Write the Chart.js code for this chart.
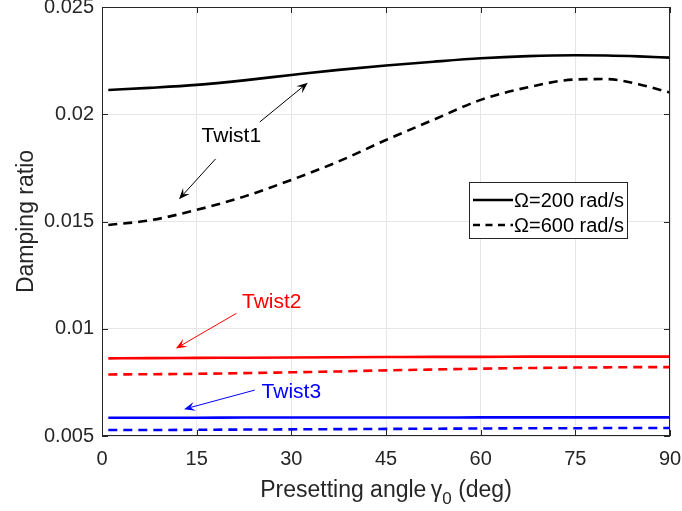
<!DOCTYPE html>
<html>
<head>
<meta charset="utf-8">
<script src="https://cdn.jsdelivr.net/npm/chart.js@4.4.1/dist/chart.umd.min.js"></script>
<style>
  html, body { margin: 0; padding: 0; background: #fff; }
  #wrap { width: 682px; height: 511px; }
</style>
</head>
<body>
<div id="wrap"><canvas id="chart" width="682" height="511"></canvas></div>
<script>
// presetting angle (deg)
const angles = [1, 7.5, 15, 22.5, 30, 37.5, 45, 52.5, 60, 67.5, 75, 80, 85, 90];

// damping ratio, Omega = 200 rad/s (solid) and 600 rad/s (dashed)
const twist1At200 = [0.02113, 0.02123, 0.02137, 0.02158, 0.02183, 0.02207, 0.02227, 0.02245, 0.02261, 0.02271, 0.02275, 0.02274, 0.02270, 0.02264];
const twist1At600 = [0.01484, 0.01505, 0.01554, 0.01616, 0.01694, 0.01780, 0.01880, 0.01974, 0.02067, 0.02126, 0.02162, 0.02164, 0.02140, 0.02101];
const twist2At200 = [0.00862, 0.00863, 0.00864, 0.00865, 0.00866, 0.00867, 0.00868, 0.00869, 0.00869, 0.00870, 0.00870, 0.00870, 0.00870, 0.00870];
const twist2At600 = [0.00787, 0.00788, 0.00790, 0.00793, 0.00797, 0.00801, 0.00806, 0.00810, 0.00814, 0.00817, 0.00819, 0.00820, 0.00821, 0.00821];
const twist3At200 = [0.00585, 0.00585, 0.00585, 0.00586, 0.00586, 0.00586, 0.00586, 0.00586, 0.00587, 0.00587, 0.00587, 0.00587, 0.00587, 0.00587];
const twist3At600 = [0.00528, 0.00528, 0.00529, 0.00530, 0.00531, 0.00532, 0.00533, 0.00534, 0.00535, 0.00536, 0.00536, 0.00537, 0.00537, 0.00537];

const xTicks = [0, 15, 30, 45, 60, 75, 90];
const yTicks = [0.005, 0.01, 0.015, 0.02, 0.025];
const legendLabels = ['\u03A9=200 rad/s', '\u03A9=600 rad/s'];

// text labels with arrows (data coordinates)
const notes = [
  { text: 'Twist1', color: '#000', at: [20.5, 0.01899], arrows: [[25.0, 0.01964, 32.6, 0.02147], [18.0, 0.01792, 12.2, 0.01604]] },
  { text: 'Twist2', color: '#ff0000', at: [26.9, 0.01125], arrows: [[21.3, 0.01072, 11.7, 0.00908]] },
  { text: 'Twist3', color: '#0000ff', at: [30.0, 0.00703], arrows: [[24.2, 0.00714, 13.0, 0.00625]] }
];

const FONT = '"Liberation Sans", Arial, Helvetica, sans-serif';
const DASH = [9, 6];

function makeSet(label, values, color, dashed) {
  return {
    label: label,
    data: angles.map((a, i) => ({ x: a, y: values[i] })),
    borderColor: color,
    borderWidth: 2.6,
    borderDash: dashed ? DASH : [],
    pointRadius: 0,
    fill: false,
    cubicInterpolationMode: 'monotone'
  };
}

// thin shaft with a filled "stealth" head, like MATLAB annotation arrows
function drawArrow(ctx, x1, y1, x2, y2) {
  const ang = Math.atan2(y2 - y1, x2 - x1);
  const len = 11, half = 4.5;
  const c = Math.cos(ang), s = Math.sin(ang);
  ctx.beginPath();
  ctx.moveTo(x1, y1);
  ctx.lineTo(x2 - c * len * 0.6, y2 - s * len * 0.6);
  ctx.stroke();
  ctx.beginPath();
  ctx.moveTo(x2, y2);
  ctx.lineTo(x2 - c * len - s * half, y2 - s * len + c * half);
  ctx.lineTo(x2 - c * len * 0.6, y2 - s * len * 0.6);
  ctx.lineTo(x2 - c * len + s * half, y2 - s * len - c * half);
  ctx.closePath();
  ctx.fill();
}

const decor = {
  id: 'decor',
  afterDraw(chart) {
    const ctx = chart.ctx;
    const a = chart.chartArea;
    const xs = chart.scales.x, ys = chart.scales.y;
    ctx.save();

    // box and inward ticks
    ctx.strokeStyle = '#262626';
    ctx.lineWidth = 1;
    ctx.strokeRect(a.left + 0.5, a.top + 0.5, a.right - a.left - 1, a.bottom - a.top - 1);
    ctx.beginPath();
    xTicks.forEach(v => {
      const px = Math.round(xs.getPixelForValue(v)) + 0.5;
      ctx.moveTo(px, a.bottom); ctx.lineTo(px, a.bottom - 6);
      ctx.moveTo(px, a.top); ctx.lineTo(px, a.top + 6);
    });
    yTicks.forEach(v => {
      const py = Math.round(ys.getPixelForValue(v)) + 0.5;
      ctx.moveTo(a.left, py); ctx.lineTo(a.left + 6, py);
      ctx.moveTo(a.right, py); ctx.lineTo(a.right - 6, py);
    });
    ctx.stroke();

    // annotations
    ctx.lineWidth = 1;
    ctx.font = '21px ' + FONT;
    ctx.textAlign = 'center';
    ctx.textBaseline = 'middle';
    notes.forEach(n => {
      ctx.strokeStyle = n.color;
      ctx.fillStyle = n.color;
      n.arrows.forEach(r => {
        drawArrow(ctx, xs.getPixelForValue(r[0]), ys.getPixelForValue(r[1]),
                       xs.getPixelForValue(r[2]), ys.getPixelForValue(r[3]));
      });
      ctx.fillText(n.text, xs.getPixelForValue(n.at[0]), ys.getPixelForValue(n.at[1]));
    });

    // legend
    const lx = 469, ly = 182, lw = 158, lh = 56;
    ctx.fillStyle = '#fff';
    ctx.fillRect(lx, ly, lw, lh);
    ctx.strokeStyle = '#262626';
    ctx.lineWidth = 1;
    ctx.strokeRect(lx + 0.5, ly + 0.5, lw, lh);
    ctx.font = '20px ' + FONT;
    ctx.textAlign = 'left';
    ctx.fillStyle = '#000';
    legendLabels.forEach((lab, i) => {
      const yy = ly + 18 + i * 25;
      ctx.strokeStyle = '#000';
      ctx.lineWidth = 2.6;
      ctx.setLineDash(i === 0 ? [] : [7, 5.5]);
      ctx.beginPath();
      ctx.moveTo(lx + 4, yy); ctx.lineTo(lx + 44, yy);
      ctx.stroke();
      ctx.setLineDash([]);
      ctx.fillText(lab, lx + 45, yy + 1);
    });

    // axis titles
    ctx.fillStyle = '#262626';
    ctx.textBaseline = 'alphabetic';
    const big = '23px ' + FONT, small = '17px ' + FONT;
    const part1 = 'Presetting angle ', gam = '\u03B3', part3 = ' (deg)';
    ctx.font = big;
    const w1 = ctx.measureText(part1).width - 2, wg = ctx.measureText(gam).width;
    const w3 = ctx.measureText(part3).width;
    ctx.font = small;
    const w0 = ctx.measureText('0').width;
    const total = w1 + wg + w0 + w3;
    let tx = (a.left + a.right) / 2 - total / 2;
    const ty = 497;
    ctx.font = big;
    ctx.fillText(part1, tx, ty); tx += w1;
    ctx.fillText(gam, tx, ty); tx += wg;
    ctx.font = small;
    ctx.fillText('0', tx, ty + 7); tx += w0;
    ctx.font = big;
    ctx.fillText(part3, tx, ty);

    ctx.translate(33, (a.top + a.bottom) / 2);
    ctx.rotate(-Math.PI / 2);
    ctx.textAlign = 'center';
    ctx.fillText('Damping ratio', 0, 0);
    ctx.restore();
  }
};

new Chart(document.getElementById('chart'), {
  type: 'line',
  data: {
    datasets: [
      makeSet(legendLabels[0], twist1At200, '#000000', false),
      makeSet(legendLabels[1], twist1At600, '#000000', true),
      makeSet('Twist2 200', twist2At200, '#ff0000', false),
      makeSet('Twist2 600', twist2At600, '#ff0000', true),
      makeSet('Twist3 200', twist3At200, '#0000ff', false),
      makeSet('Twist3 600', twist3At600, '#0000ff', true)
    ]
  },
  options: {
    responsive: false,
    animation: false,
    layout: { padding: { left: 0, top: 7, right: 12, bottom: 0 } },
    plugins: { legend: { display: false }, tooltip: { enabled: false } },
    scales: {
      x: {
        type: 'linear',
        min: 0, max: 90,
        afterBuildTicks: s => { s.ticks = xTicks.map(v => ({ value: v })); },
        afterFit: s => { s.height = 75; s.paddingLeft = 0; s.paddingRight = 0; },
        grid: { color: '#e6e6e6', drawTicks: false },
        border: { display: false },
        ticks: { color: '#262626', font: { family: FONT, size: 20 }, padding: 11, maxRotation: 0 }
      },
      y: {
        type: 'linear',
        min: 0.005, max: 0.025,
        afterBuildTicks: s => { s.ticks = yTicks.map(v => ({ value: v })); },
        afterFit: s => { s.width = 102; s.paddingTop = 0; s.paddingBottom = 0; },
        grid: { color: '#e6e6e6', drawTicks: false },
        border: { display: false },
        ticks: {
          color: '#262626', font: { family: FONT, size: 20 }, padding: 8,
          callback: v => String(+v.toFixed(3))
        }
      }
    }
  },
  plugins: [decor]
});
</script>
</body>
</html>
